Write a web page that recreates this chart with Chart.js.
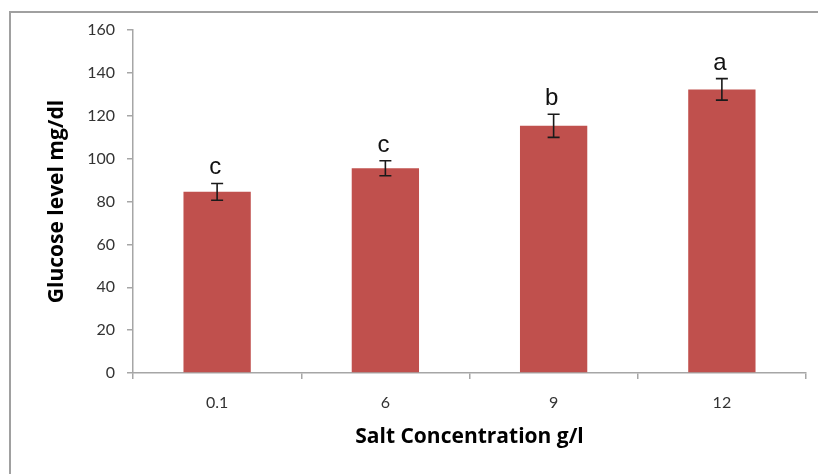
<!DOCTYPE html>
<html>
<head>
<meta charset="utf-8">
<script src="https://cdn.jsdelivr.net/npm/chart.js@4"></script>
<style>
  html, body { margin: 0; padding: 0; background: #fff; }
  #wrap { width: 818px; height: 474px; position: relative; }
</style>
</head>
<body>
<div id="wrap"><canvas id="c" width="818" height="474"></canvas></div>
<script>
// Glucose level by salt concentration, with standard error and significance groups
const categories = ['0.1', '6', '9', '12'];
const glucose = [84.5, 95.5, 115.3, 132.3];
const errors = [3.9, 3.5, 5.4, 5.0];
const groups = ['c', 'c', 'b', 'a'];
const yTicks = [0, 20, 40, 60, 80, 100, 120, 140, 160];

const axisGray = '#A6A6A6';
const barRed = '#C0504D';
const tickFamily = 'Lato, "Liberation Sans", sans-serif';
const titleFamily = '"Open Sans", "Liberation Sans", sans-serif';

// Outer frame around the figure (left and top edges)
const framePlugin = {
  id: 'frame',
  beforeDraw(chart) {
    const ctx = chart.ctx;
    ctx.save();
    ctx.strokeStyle = '#A0A0A0';
    ctx.lineWidth = 2;
    ctx.beginPath();
    ctx.moveTo(10, chart.height);
    ctx.lineTo(10, 12);
    ctx.lineTo(chart.width, 12);
    ctx.stroke();
    ctx.restore();
  }
};

// Error bars and group letters above each bar
const errorPlugin = {
  id: 'errorBars',
  afterDatasetsDraw(chart) {
    const ctx = chart.ctx;
    const y = chart.scales.y;
    const meta = chart.getDatasetMeta(0);
    ctx.save();
    meta.data.forEach((bar, i) => {
      const x = bar.x;
      const top = y.getPixelForValue(glucose[i] + errors[i]);
      const bot = y.getPixelForValue(glucose[i] - errors[i]);
      const cap = 6;
      ctx.strokeStyle = '#1a1a1a';
      ctx.lineWidth = 1.6;
      ctx.beginPath();
      ctx.moveTo(x, top); ctx.lineTo(x, bot);
      ctx.moveTo(x - cap, top); ctx.lineTo(x + cap, top);
      ctx.moveTo(x - cap, bot); ctx.lineTo(x + cap, bot);
      ctx.stroke();

      ctx.fillStyle = '#111';
      ctx.font = '24px "Liberation Sans", Arial, sans-serif';
      ctx.textAlign = 'center';
      ctx.textBaseline = 'alphabetic';
      ctx.fillText(groups[i], x - 2, top - 9);
    });
    ctx.restore();
  }
};

new Chart(document.getElementById('c'), {
  type: 'bar',
  data: {
    labels: categories,
    datasets: [{
      data: glucose,
      backgroundColor: barRed,
      borderWidth: 0,
      categoryPercentage: 1.0,
      barPercentage: 0.4
    }]
  },
  options: {
    responsive: false,
    animation: false,
    events: [],
    layout: { padding: { left: 0, top: 30, right: 12, bottom: 14 } },
    plugins: {
      legend: { display: false },
      tooltip: { enabled: false }
    },
    scales: {
      x: {
        afterFit(scale) { scale.height = 87; },
        grid: {
          drawOnChartArea: false,
          drawTicks: true,
          tickLength: 6,
          color: axisGray,
          lineWidth: 1.5
        },
        border: { color: axisGray, width: 1.5 },
        ticks: {
          color: '#333',
          font: { family: tickFamily, size: 16 },
          padding: 14
        },
        title: {
          display: true,
          text: 'Salt Concentration g/l',
          color: '#000',
          font: { family: titleFamily, size: 21, weight: 'bold' },
          padding: { top: 0, bottom: 10 }
        }
      },
      y: {
        min: 0,
        max: 160,
        afterFit(scale) { scale.width = 133; },
        afterBuildTicks(scale) { scale.ticks = yTicks.map(v => ({ value: v })); },
        grid: {
          drawOnChartArea: false,
          drawTicks: true,
          tickLength: 6,
          color: axisGray,
          lineWidth: 1.5
        },
        border: { color: axisGray, width: 1.5 },
        ticks: {
          color: '#333',
          font: { family: tickFamily, size: 16 },
          padding: 12
        },
        title: {
          display: true,
          text: 'Glucose level mg/dl',
          color: '#000',
          font: { family: titleFamily, size: 21, weight: 'bold' },
          padding: { top: 44, bottom: 0 }
        }
      }
    }
  },
  plugins: [framePlugin, errorPlugin]
});
</script>
</body>
</html>
